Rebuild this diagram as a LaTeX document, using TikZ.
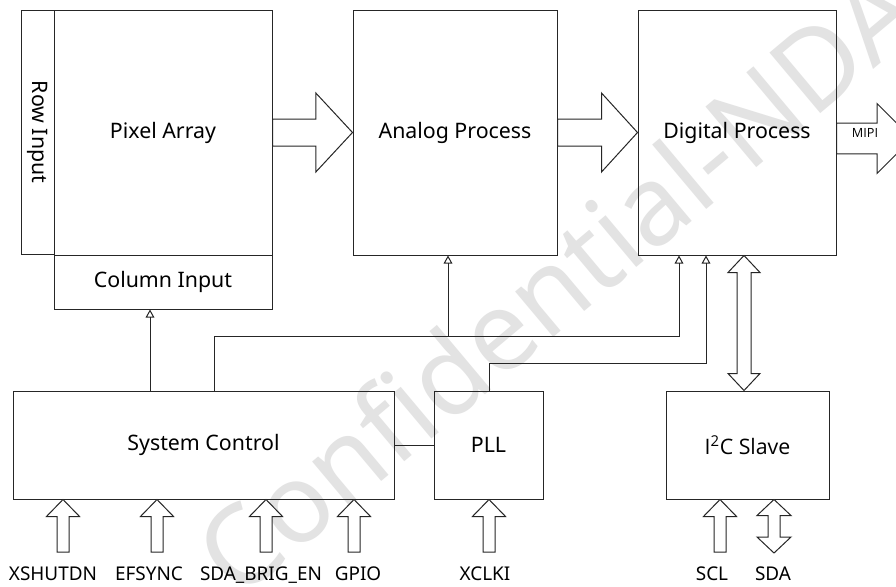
\documentclass[tikz,border=0pt]{standalone}
\usepackage{fontspec}
\setmainfont{Noto Sans}
\newfontfamily\altsans{Open Sans}
\usetikzlibrary{arrows.meta,calc}
% horizontal fat arrow: from #1 to tip #2 ; shaft half, head half, head length
\newcommand{\fatR}[5]{\draw[fat] let \p1=(#1), \p2=(#2) in
  (\x1,\y1+#3) -- (\x2-#5,\y1+#3) -- (\x2-#5,\y1+#4) -- (\x2,\y1)
  -- (\x2-#5,\y1-#4) -- (\x2-#5,\y1-#3) -- (\x1,\y1-#3) -- cycle;}
% vertical fat arrow pointing up: from #1 (below) to tip #2 (above)
\newcommand{\fatU}[5]{\draw[fat] let \p1=(#1), \p2=(#2) in
  (\x2-#3,\y1) -- (\x2-#3,\y2-#5) -- (\x2-#4,\y2-#5) -- (\x2,\y2)
  -- (\x2+#4,\y2-#5) -- (\x2+#3,\y2-#5) -- (\x2+#3,\y1) -- cycle;}
% vertical double fat arrow: bottom tip #1, top tip #2
\newcommand{\fatUD}[5]{\draw[fat] let \p1=(#1), \p2=(#2) in
  (\x2-#3,\y1+#5) -- (\x2-#3,\y2-#5) -- (\x2-#4,\y2-#5) -- (\x2,\y2)
  -- (\x2+#4,\y2-#5) -- (\x2+#3,\y2-#5) -- (\x2+#3,\y1+#5)
  -- (\x2+#4,\y1+#5) -- (\x2,\y1) -- (\x2-#4,\y1+#5) -- (\x2-#3,\y1+#5) -- cycle;}
\begin{document}
\begin{tikzpicture}[x=0.75pt,y=-0.75pt,
  box/.style 2 args={draw=black!85,line width=0.75pt,inner sep=0pt,
    minimum width=#1*0.75pt,minimum height=#2*0.75pt,
    font=\fontsize{16}{19}\selectfont},
  lab/.style={anchor=base,inner sep=0pt,font=\fontsize{14.2}{17}\selectfont},
  fat/.style={draw=black!85,line width=0.75pt,fill=white,line join=miter},
  wire/.style={draw=black!85,line width=0.75pt},
  sig/.style={wire,-{Triangle[open,width=6.5pt,length=6pt]}}]
\useasboundingbox (0,0) rectangle (896,586);
\clip (0,0) rectangle (896,586);
\fill[white] (0,0) rectangle (896,586);
% watermark
\node[rotate=40,text=black!11,inner sep=0pt,font=\fontsize{83}{90}\selectfont] (wm) at (556,281) {Confidential-NDA};
% blocks
\node[box={244}{33},rotate=-90] (row) at (37.5,132) {Row Input};
\node[box={218}{245}] (pix) at (163,132.5) {Pixel Array};
\node[box={218}{54}] (col) at (163,282) {Column Input};
\node[box={204}{245}] (ana) at (455,132.5) {Analog Process};
\node[box={198}{245}] (dig) at (737,132.5) {Digital Process};
\node[box={381}{108}] (sys) at (203.5,445) {System Control};
\node[box={109}{108}] (pll) at (488.5,445) {PLL};
\node[box={163}{108}] (i2c) at (747.5,445) {\altsans I\textsuperscript{2}C Slave};
% guides
\coordinate (xa) at (150,0);
\coordinate (xb) at (214,0);
\coordinate (xc) at (448,0);
\coordinate (xd) at (679,0);
\coordinate (xe) at (489,0);
\coordinate (xf) at (706,0);
\coordinate (ya) at (0,336);
\coordinate (yb) at (0,363);
% thin signal lines
\draw[sig] (sys.north -| xa) -- (col.south -| xa);
\draw[sig] (sys.north -| xb) -- (ya -| xb) -- (ya -| xd) -- (dig.south -| xd);
\draw[sig] (ya -| xc) -- (ana.south -| xc);
\draw[sig] (pll.north -| xe) -- (yb -| xe) -- (yb -| xf) -- (dig.south -| xf);
\draw[wire] (sys.east) -- (pll.west);
% fat data arrows
\fatR{pix.east}{ana.west}{10.125pt}{29.625pt}{27.5pt}
\fatR{ana.east}{dig.west}{10.125pt}{29.625pt}{27pt}
\coordinate (mipi) at (912,138.5);
\fatR{dig.east |- mipi}{mipi}{11.6pt}{26.25pt}{26.25pt}
\node[inner sep=0pt,font=\altsans\fontsize{9.5}{11}\selectfont] (mipit) at (865,133) {MIPI};
% I2C bus
\coordinate (xbus) at (744,0);
\fatUD{i2c.north -| xbus}{dig.south -| xbus}{5.25pt}{12pt}{12.75pt}
% inputs
\node[lab] (l1) at (53,580) {XSHUTDN};
\node[lab] (l2) at (149,580) {EFSYNC};
\node[lab] (l3) at (261,580) {SDA\_BRIG\_EN};
\node[lab] (l4) at (358,580) {GPIO};
\node[lab] (l5) at (485,580) {XCLKI};
\node[lab] (l6) at (712,580) {SCL};
\node[lab] (l7) at (773,580) {SDA};
\coordinate (a1) at (63,552);
\coordinate (a2) at (157,552);
\coordinate (a3) at (266,552);
\coordinate (a4) at (354,552);
\coordinate (a5) at (489,552);
\coordinate (a6) at (720,552);
\coordinate (a7) at (774,553);
\fatU{a1}{sys.south -| a1}{4.5pt}{12.4pt}{12.75pt}
\fatU{a2}{sys.south -| a2}{4.5pt}{12.4pt}{12.75pt}
\fatU{a3}{sys.south -| a3}{4.5pt}{12.4pt}{12.75pt}
\fatU{a4}{sys.south -| a4}{4.5pt}{12.4pt}{12.75pt}
\fatU{a5}{pll.south -| a5}{4.5pt}{12.4pt}{12.75pt}
\fatU{a6}{i2c.south -| a6}{4.5pt}{12.4pt}{12.75pt}
\fatUD{a7}{i2c.south -| a7}{4.5pt}{12.75pt}{12pt}
\end{tikzpicture}
\end{document}
